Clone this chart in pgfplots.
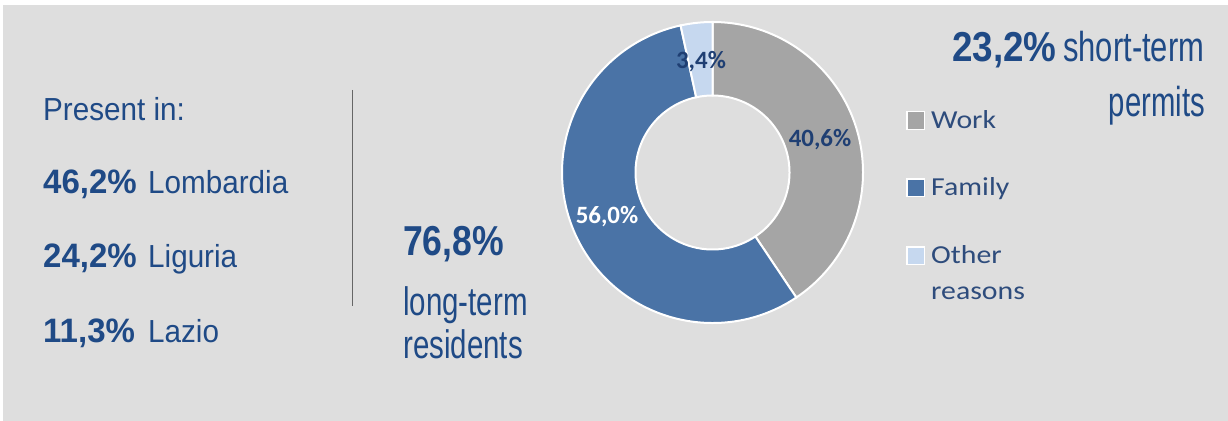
\documentclass[border=0pt]{standalone}
\usepackage{pgfplots}
\pgfplotsset{compat=1.18}
\usepackage{pgfplotstable}
\usepackage{graphicx}
\usepackage{fontspec}
\setmainfont{Liberation Sans}
\newfontfamily\calib{Carlito}
\usetikzlibrary{calc}
\definecolor{bgcol}{HTML}{DEDEDE}
\definecolor{workcol}{HTML}{A5A5A5}
\definecolor{famcol}{HTML}{4A73A6}
\definecolor{othercol}{HTML}{C6D8EF}
\definecolor{txtblue}{HTML}{1F4A86}
\definecolor{legblue}{HTML}{2E4C7C}
\definecolor{lblblue}{HTML}{1F3F73}
\pgfplotstableread{
reason value
Work 40.6
Family 56.0
Other 3.4
}\reasons
\pgfplotstablegetelem{0}{value}\of\reasons \let\vW\pgfplotsretval
\pgfplotstablegetelem{1}{value}\of\reasons \let\vF\pgfplotsretval
\pgfplotstablegetelem{2}{value}\of\reasons \let\vO\pgfplotsretval
\pgfmathsetmacro\aA{90}
\pgfmathsetmacro\aB{\aA-3.6*\vW}
\pgfmathsetmacro\aC{\aB-3.6*\vF}
\pgfmathsetmacro\aD{\aC-3.6*\vO}
\def\Ro{150.5bp}
\def\Ri{77bp}
\newcommand{\slice}[3]{%
  \fill[fill=#3,draw=white,line width=2bp] ($(c)+(#1:\Ro)$) arc[start angle=#1,end angle=#2,radius=\Ro]
    -- ($(c)+(#2:\Ri)$) arc[start angle=#2,end angle=#1,radius=\Ri] -- cycle;}
\begin{document}
\begin{tikzpicture}
\begin{axis}[width=1228bp,height=421bp,scale only axis,
  xmin=0,xmax=1228,ymin=0,ymax=421,y dir=reverse,hide axis,clip=false]
\fill[white] (axis cs:0,0) rectangle (axis cs:1228,421);
\fill[bgcol] (axis cs:3,5) rectangle (axis cs:1228,421);
% left block
\node[anchor=base west,inner sep=0,text=txtblue] at (axis cs:43,120)
  {\scalebox{0.93}[1]{\fontsize{32}{38}\selectfont Present in:}};
\node[anchor=base west,inner sep=0,text=txtblue] at (axis cs:43,193)
  {\scalebox{0.975}[1]{\fontsize{34}{40}\selectfont\bfseries 46,2\%}};
\node[anchor=base west,inner sep=0,text=txtblue] at (axis cs:148,193)
  {\scalebox{0.93}[1]{\fontsize{32}{38}\selectfont Lombardia}};
\node[anchor=base west,inner sep=0,text=txtblue] at (axis cs:43,267)
  {\scalebox{0.975}[1]{\fontsize{34}{40}\selectfont\bfseries 24,2\%}};
\node[anchor=base west,inner sep=0,text=txtblue] at (axis cs:148,267)
  {\scalebox{0.93}[1]{\fontsize{32}{38}\selectfont Liguria}};
\node[anchor=base west,inner sep=0,text=txtblue] at (axis cs:43,342)
  {\scalebox{0.975}[1]{\fontsize{34}{40}\selectfont\bfseries 11,3\%}};
\node[anchor=base west,inner sep=0,text=txtblue] at (axis cs:148,342)
  {\scalebox{0.93}[1]{\fontsize{32}{38}\selectfont Lazio}};
\draw[color=black!60,line width=1.5bp] (axis cs:352.5,90) -- (axis cs:352.5,306);
% middle block
\node[anchor=base west,inner sep=0,text=txtblue] at (axis cs:403,255)
  {\scalebox{0.85}[1]{\fontsize{42}{48}\selectfont\bfseries 76,8\%}};
\node[anchor=base west,inner sep=0,text=txtblue] at (axis cs:403,315)
  {\scalebox{0.74}[1]{\fontsize{40}{46}\selectfont long-term}};
\node[anchor=base west,inner sep=0,text=txtblue] at (axis cs:403,358)
  {\scalebox{0.74}[1]{\fontsize{40}{46}\selectfont residents}};
% donut
\coordinate (c) at (axis cs:712.5,172.5);
\slice{\aA}{\aB}{workcol}
\slice{\aB}{\aC}{famcol}
\slice{\aC}{\aD}{othercol}
\node[text=lblblue,inner sep=0] at (axis cs:820,140)
  {\calib\fontsize{25}{30}\selectfont\bfseries 40,6\%};
\node[text=white,inner sep=0] at (axis cs:607,217)
  {\calib\fontsize{25}{30}\selectfont\bfseries 56,0\%};
\node[text=lblblue,inner sep=0] at (axis cs:701,62)
  {\calib\fontsize{25}{30}\selectfont\bfseries 3,4\%};
% legend
\fill[white] (axis cs:906,111) rectangle (axis cs:925,130);
\fill[workcol] (axis cs:907.5,112.5) rectangle (axis cs:923.5,128.5);
\fill[white] (axis cs:906,178) rectangle (axis cs:925,197);
\fill[famcol] (axis cs:907.5,179.5) rectangle (axis cs:923.5,195.5);
\fill[white] (axis cs:906,246) rectangle (axis cs:925,265);
\fill[othercol] (axis cs:907.5,247.5) rectangle (axis cs:923.5,263.5);
\node[anchor=base west,inner sep=0,text=legblue] at (axis cs:931,128)
  {\scalebox{1.15}[1]{\calib\fontsize{26}{30}\selectfont Work}};
\node[anchor=base west,inner sep=0,text=legblue] at (axis cs:931,195)
  {\scalebox{1.15}[1]{\calib\fontsize{26}{30}\selectfont Family}};
\node[anchor=base west,inner sep=0,text=legblue] at (axis cs:931,263)
  {\scalebox{1.15}[1]{\calib\fontsize{26}{30}\selectfont Other}};
\node[anchor=base west,inner sep=0,text=legblue] at (axis cs:931,299)
  {\scalebox{1.15}[1]{\calib\fontsize{26}{30}\selectfont reasons}};
% top right
\node[anchor=base west,inner sep=0,text=txtblue] at (axis cs:952,62)
  {\scalebox{0.88}[1]{\fontsize{42}{48}\selectfont\bfseries 23,2\%}};
\node[anchor=base west,inner sep=0,text=txtblue] at (axis cs:1063,62)
  {\scalebox{0.74}[1]{\fontsize{42}{48}\selectfont short-term}};
\node[anchor=base east,inner sep=0,text=txtblue] at (axis cs:1205,116)
  {\scalebox{0.7}[1]{\fontsize{42}{48}\selectfont permits}};
\end{axis}
\end{tikzpicture}
\end{document}
